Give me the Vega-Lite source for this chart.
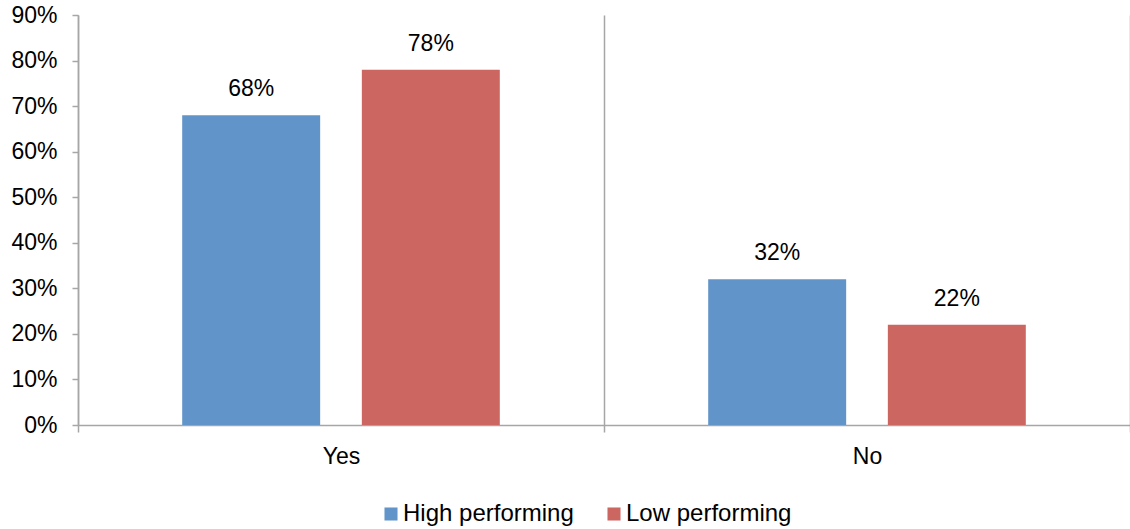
{
  "$schema": "https://vega.github.io/schema/vega-lite/v6.json",
  "width": 1052,
  "height": 410,
  "autosize": {"type": "none"},
  "padding": {"left": 78, "top": 15, "right": 0, "bottom": 104},
  "config": {
    "font": "Liberation Sans",
    "view": {"stroke": null},
    "axis": {
      "domainColor": "#A6A6A6",
      "domainWidth": 1.5,
      "tickColor": "#A6A6A6",
      "tickWidth": 1.5,
      "labelColor": "#000000",
      "labelFont": "Liberation Sans",
      "labelFontSize": 23,
      "title": null
    }
  },
  "data": {
    "values": [
      {"answer": "Yes", "group": "High performing", "value": 0.68},
      {"answer": "Yes", "group": "Low performing", "value": 0.78},
      {"answer": "No", "group": "High performing", "value": 0.32},
      {"answer": "No", "group": "Low performing", "value": 0.22}
    ]
  },
  "encoding": {
    "x": {
      "field": "answer",
      "type": "nominal",
      "sort": ["Yes", "No"],
      "scale": {"paddingInner": 0, "paddingOuter": 0},
      "axis": {
        "labelAngle": 0,
        "tickBand": "extent",
        "grid": true,
        "gridColor": "#A6A6A6",
        "gridWidth": 1.5,
        "tickSize": 7,
        "labelPadding": 13
      }
    },
    "xOffset": {
      "field": "group",
      "type": "nominal",
      "sort": ["High performing", "Low performing"],
      "scale": {"paddingInner": 0.232, "paddingOuter": 0.58}
    },
    "y": {
      "field": "value",
      "type": "quantitative",
      "scale": {"domain": [0, 0.9], "nice": false},
      "axis": {
        "format": ".0%",
        "values": [0, 0.1, 0.2, 0.3, 0.4, 0.5, 0.6, 0.7, 0.8, 0.9],
        "grid": false,
        "tickSize": 6,
        "labelPadding": 15
      }
    }
  },
  "layer": [
    {
      "mark": {"type": "bar"},
      "encoding": {
        "color": {
          "field": "group",
          "type": "nominal",
          "sort": ["High performing", "Low performing"],
          "scale": {"range": ["#6195C9", "#CC6660"]},
          "legend": {
            "title": null,
            "orient": "none",
            "direction": "horizontal",
            "legendX": 301,
            "legendY": 487,
            "padding": 0,
            "symbolType": "square",
            "symbolSize": 170,
            "symbolStrokeWidth": 0,
            "labelFontSize": 24,
            "labelColor": "#000000",
            "labelOffset": 0,
            "labelLimit": 0,
            "columnPadding": 28
          }
        }
      }
    },
    {
      "mark": {"type": "text", "dy": -19, "baseline": "alphabetic", "fontSize": 23, "color": "#000000"},
      "encoding": {
        "text": {"field": "value", "type": "quantitative", "format": ".0%"}
      }
    }
  ]
}
